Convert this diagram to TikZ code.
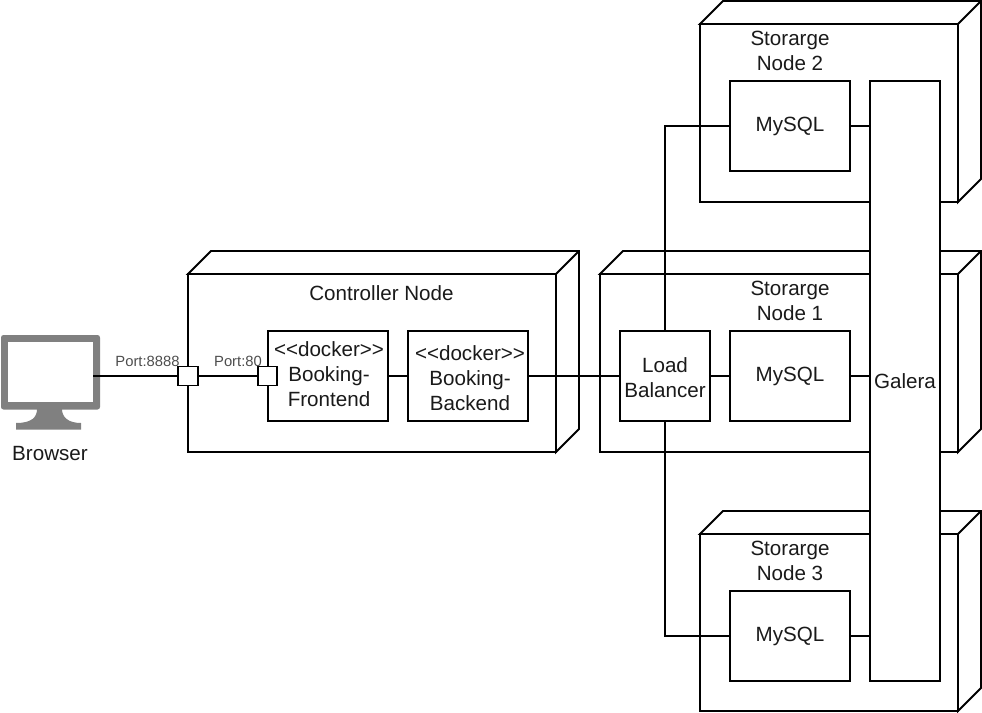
\documentclass[tikz,border=0pt]{standalone}
\usepackage{fontspec}
\setmainfont[Ligatures={NoCommon,NoRequired},Mapping=]{Liberation Sans}
\definecolor{ink}{HTML}{1A1A1A}
\definecolor{monitor}{HTML}{808080}
\definecolor{portink}{HTML}{4D4D4D}
\tikzset{
  line/.style={draw=black,line width=1.9pt,line join=miter},
  box/.style={line,fill=white,rectangle,inner sep=0pt,outer sep=0pt,anchor=north west},
  caption/.style={text=ink,font=\fontsize{20.6}{25}\selectfont,align=center,inner sep=0pt,anchor=center},
  portlabel/.style={text=portink,font=\fontsize{14.8}{18}\selectfont,inner sep=0pt,anchor=center},
  portbox/.style={line,fill=white,rectangle,inner sep=0pt,outer sep=0pt,minimum width=19.5pt,minimum height=19pt},
}
\newcommand{\cuboid}[5]{% name, x, y, w, h
  \node[box,minimum width=#4pt,minimum height=#5pt] (#1) at (#2,#3) {};
  \path[line,fill=white] (#1.north west) -- ++(23,-23) -- ++(#4,0) -- ++(0,#5) -- (#1.south east) -- (#1.north east) -- cycle;
  \draw[line] (#1.north east) -- ++(23,-23);
}
\newcommand{\inner}[5]{% name, x, y, w, h
  \node[box,minimum width=#4pt,minimum height=#5pt] (#1) at (#2,#3) {};
}
\newcommand{\docker}{{<}{<}docker{>}{>}}
\begin{document}
\begin{tikzpicture}[x=1pt,y=-1pt]
\useasboundingbox (0,0) rectangle (982,712);
% cuboids
\cuboid{ctrl}{188}{274}{368}{178}
\cuboid{s1}{600}{274}{358}{178}
\cuboid{s2}{700}{24}{258}{178}
\cuboid{s3}{700}{534}{258}{177}
% monitor
\path[fill=monitor,rounded corners=2.5pt] (1,335) rectangle (100,409.5);
\fill[monitor] (37,409) .. controls (37,417) and (32,423) .. (16,423) -- (16,429.5) -- (81,429.5) -- (81,423) .. controls (68,423) and (62,417) .. (62,409) -- cycle;
\node[fill=white,inner sep=0pt,outer sep=0pt,minimum width=85pt,minimum height=60pt,anchor=north west] (browser) at (8,342) {};
% inner boxes
\inner{mysqlA}{730}{81}{120}{90}
\inner{mysqlB}{730}{331}{120}{90}
\inner{mysqlC}{730}{591}{120}{90}
\inner{lb}{620}{331}{90}{90}
\inner{front}{268}{331}{120}{90}
\inner{back}{408}{331}{120}{90}
\inner{galera}{870}{81}{70}{600}
% connectors
\draw[line] (lb.north) -- (lb.north |- mysqlA.west) -- (mysqlA.west);
\draw[line] (lb.south) -- (lb.south |- mysqlC.west) -- (mysqlC.west);
\draw[line] (lb.east) -- (mysqlB.west);
\draw[line] (back.east) -- (lb.west);
\draw[line] (front.east) -- (back.west);
\draw[line] (mysqlA.east) -- (mysqlA.east -| galera.west);
\draw[line] (mysqlB.east) -- (mysqlB.east -| galera.west);
\draw[line] (mysqlC.east) -- (mysqlC.east -| galera.west);
\node[portbox] (portA) at (188,376) {};
\node[portbox] (portB) at (267.5,376) {};
\draw[line] (browser.east |- portA.west) -- (portA.west);
\draw[line] (portA.east) -- (portB.west);
% text
\node[caption] (tCtrl) at (381.5,293) {Controller Node};
\node[caption] (tS1) at (790,301) {Storarge\\Node 1};
\node[caption] (tS2) at (790,51) {Storarge\\Node 2};
\node[caption] (tS3) at (790,561) {Storarge\\Node 3};
\node[caption] (tMa) at (790,126) {MySQL};
\node[caption] (tMb) at (790,376) {MySQL};
\node[caption] (tMc) at (790,636) {MySQL};
\node[caption] (tLb) at (665,378) {Load\\Balancer};
\node[caption] (tGal) at (905,381.5) {Galera};
\node[caption] (tFront) at (329,374.5) {\docker\\Booking-\\Frontend};
\node[caption] (tBack) at (470,378.5) {\docker\\Booking-\\Backend};
\node[caption] (tBrowser) at (50,454) {Browser};
\node[portlabel] (tPa) at (147.5,361.5) {Port:8888};
\node[portlabel] (tPb) at (238,361.5) {Port:80};
\end{tikzpicture}
\end{document}
